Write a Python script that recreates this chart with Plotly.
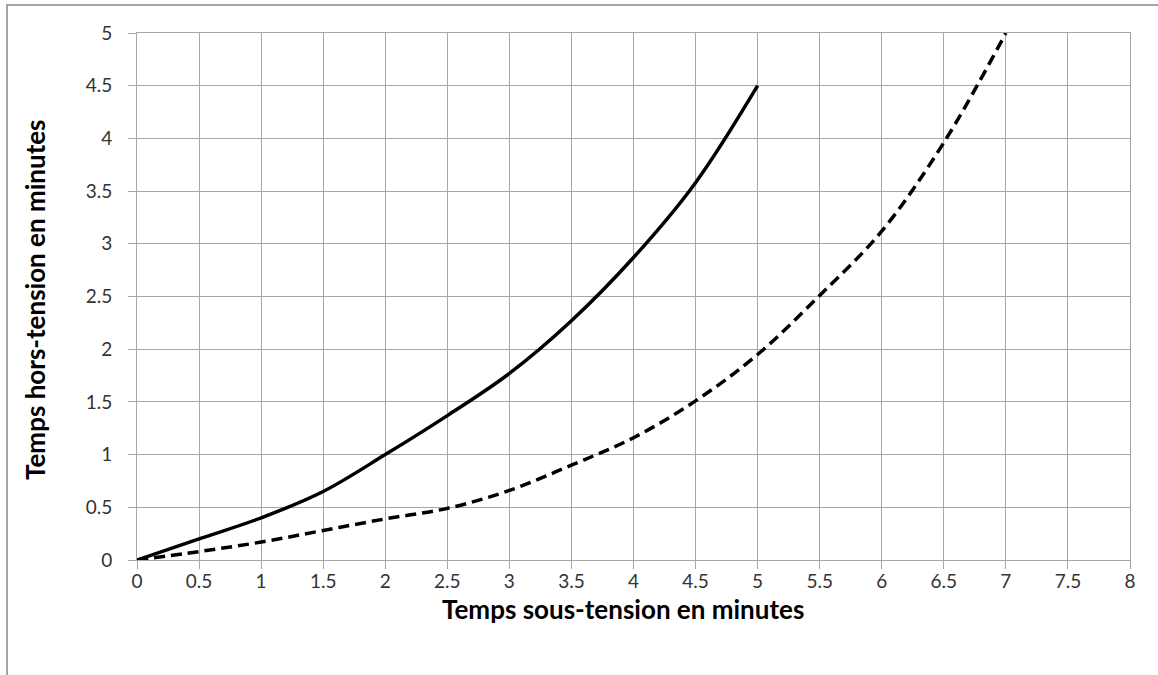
import plotly.graph_objects as go

# Data
x_solid = [0, 0.5, 1, 1.5, 2, 2.5, 3, 3.5, 4, 4.5, 5]
y_solid = [0, 0.2, 0.4, 0.65, 1.0, 1.37, 1.77, 2.27, 2.87, 3.58, 4.5]

x_dashed = [0, 0.5, 1, 1.5, 2, 2.5, 3, 3.5, 4, 4.5, 5, 5.5, 6, 6.5, 7]
y_dashed = [0, 0.08, 0.17, 0.28, 0.39, 0.49, 0.66, 0.9, 1.16, 1.51, 1.95, 2.51, 3.12, 3.96, 5.0]

x_ticks = [0, 0.5, 1, 1.5, 2, 2.5, 3, 3.5, 4, 4.5, 5, 5.5, 6, 6.5, 7, 7.5, 8]
y_ticks = [0, 0.5, 1, 1.5, 2, 2.5, 3, 3.5, 4, 4.5, 5]

x_title = "Temps sous-tension en minutes"
y_title = "Temps hors-tension en minutes"

W, H = 1158, 675
L, R, T, B = 137, 28, 33, 115
pw, ph = W - L - R, H - T - B

def px_to_paper_x(p):
    return (p - L) / pw

def px_to_paper_y(p):
    return (H - B - p) / ph

fig = go.Figure()
fig.add_trace(go.Scatter(x=x_solid, y=y_solid, mode="lines",
                         line=dict(color="black", width=3.5, shape="spline", smoothing=1.0),
                         showlegend=False, hoverinfo="skip"))
fig.add_trace(go.Scatter(x=x_dashed, y=y_dashed, mode="lines",
                         line=dict(color="black", width=3.5, shape="spline", smoothing=1.0, dash="11px,6px"),
                         showlegend=False, hoverinfo="skip"))

grid_col = "#a6a6a6"
tick_font = dict(family="Lato, Open Sans, sans-serif", size=19, color="#333333")

fig.update_xaxes(range=[0, 8], tickvals=x_ticks, ticktext=[f"{v:g}" for v in x_ticks],
                 showgrid=True, gridcolor=grid_col, gridwidth=1,
                 ticks="outside", ticklen=8, tickcolor=grid_col, tickwidth=1,
                 showline=True, linecolor=grid_col, linewidth=1, mirror=True,
                 zeroline=False, tickfont=tick_font, ticklabelstandoff=-4)
fig.update_yaxes(range=[0, 5], tickvals=y_ticks, ticktext=[f"{v:g}" for v in y_ticks],
                 showgrid=True, gridcolor=grid_col, gridwidth=1,
                 ticks="outside", ticklen=8, tickcolor=grid_col, tickwidth=1,
                 showline=True, linecolor=grid_col, linewidth=1, mirror=True,
                 zeroline=False, tickfont=tick_font, ticklabelstandoff=12)

title_font = dict(family="Lato, Open Sans, sans-serif", size=26, color="black")
fig.add_annotation(text=f"<b>{x_title}</b>", xref="paper", yref="paper",
                   x=px_to_paper_x(623), y=px_to_paper_y(609),
                   xanchor="center", yanchor="middle", showarrow=False, font=title_font)
fig.add_annotation(text=f"<b>{y_title}</b>", xref="paper", yref="paper",
                   x=px_to_paper_x(35), y=px_to_paper_y(300), textangle=-90,
                   xanchor="center", yanchor="middle", showarrow=False, font=title_font)

# outer chart frame (partially visible: top and left edges)
fig.add_shape(type="rect", xref="paper", yref="paper",
              x0=px_to_paper_x(7), x1=px_to_paper_x(1200),
              y0=px_to_paper_y(720), y1=px_to_paper_y(5),
              line=dict(color="#888888", width=1.5), layer="below")

fig.update_layout(width=W, height=H, margin=dict(l=L, r=R, t=T, b=B),
                  plot_bgcolor="white", paper_bgcolor="white")

fig.write_html("out.html", config={"displayModeBar": False},
               post_script="document.body.style.margin='0';document.body.style.overflow='hidden';")
